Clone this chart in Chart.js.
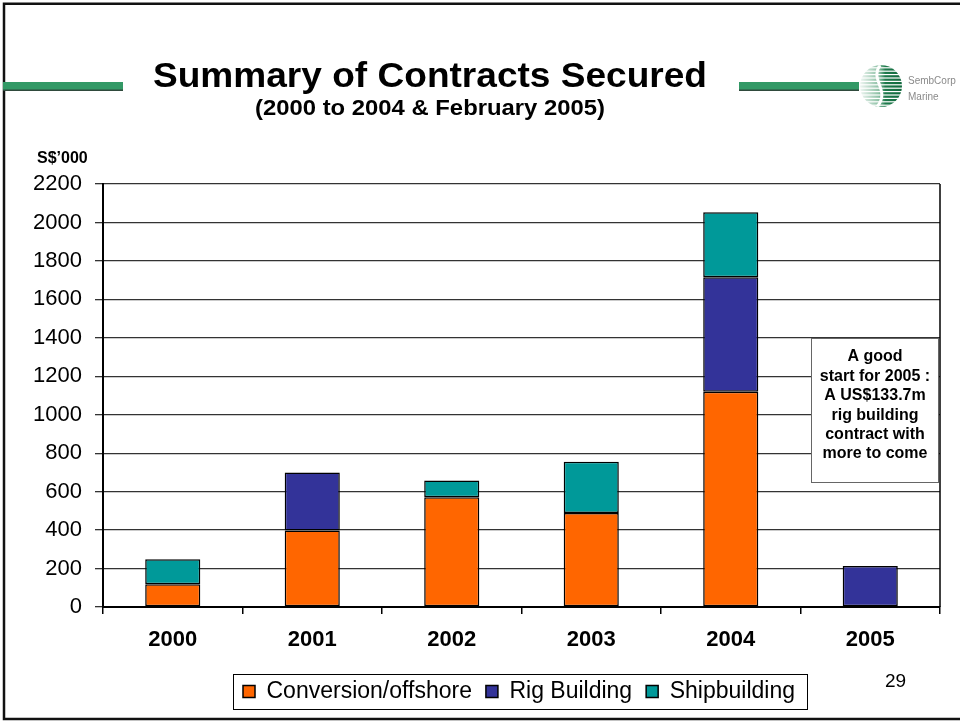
<!DOCTYPE html>
<html>
<head>
<meta charset="utf-8">
<script src="https://cdn.jsdelivr.net/npm/chart.js@4.4.1/dist/chart.umd.min.js"></script>
<style>
  html, body { margin: 0; padding: 0; background: #fff; }
  canvas { display: block; }
</style>
</head>
<body>
<canvas id="myChart" width="960" height="721"></canvas>
<script>
// contracts secured, S$'000, per year
const years = ['2000', '2001', '2002', '2003', '2004', '2005'];
const conversionOffshore = [118, 398, 571, 489, 1119, null];
const rigBuilding = [null, 302, null, null, 596, 213];
const shipbuilding = [130, null, 87, 266, 338, null];

const yMax = 2200;
const yStep = 200;

const noteLines = ['A good', 'start for 2005 :', 'A US$133.7m', 'rig building', 'contract with', 'more to come'];

const FONT = "'Liberation Sans', Arial, sans-serif";
const LEGEND_START = 243;

// draw text centred on cx and stretched to a given width
function fitText(ctx, text, cx, y, font, width) {
  ctx.save();
  ctx.font = font;
  const w = ctx.measureText(text).width;
  ctx.translate(cx, y);
  ctx.scale(width / w, 1);
  ctx.textAlign = 'center';
  ctx.textBaseline = 'alphabetic';
  ctx.fillText(text, 0, 0);
  ctx.restore();
}

function greenRule(ctx, x, y, w) {
  ctx.fillStyle = '#339966';
  ctx.fillRect(x, y, w, 8);
  ctx.fillStyle = '#2f4a3c';
  ctx.fillRect(x, y + 7.5, w, 1.5);
}

function drawLogo(ctx) {
  const cx = 881, cy = 86, r = 21;
  ctx.save();
  ctx.beginPath();
  ctx.ellipse(cx, cy, r, r, 0, 0, Math.PI * 2);
  ctx.clip();
  for (let y = cy - r; y < cy + r; y += 3.4) {
    const g = ctx.createLinearGradient(cx - r, 0, cx + r, 0);
    g.addColorStop(0, 'rgba(46,140,90,0.08)');
    g.addColorStop(0.45, 'rgba(46,140,90,0.55)');
    g.addColorStop(0.6, '#1f7a4c');
    g.addColorStop(1, '#11693d');
    ctx.fillStyle = g;
    ctx.fillRect(cx - r, y, 2 * r, 2.2);
  }
  ctx.strokeStyle = '#fff';
  ctx.lineWidth = 3;
  ctx.beginPath();
  ctx.moveTo(cx - 1, cy - r);
  ctx.bezierCurveTo(cx - 12, cy - 6, cx + 10, cy + 4, cx - 4, cy + r);
  ctx.stroke();
  ctx.restore();
  ctx.fillStyle = '#8a8a8a';
  ctx.font = '10px ' + FONT;
  ctx.textAlign = 'left';
  ctx.fillText('SembCorp', 908, 81);
  ctx.fillText('Marine', 908, 97);
}

const slideDecor = {
  id: 'slideDecor',
  afterLayout(chart) {
    // move the legend row so it starts under the 2000 bar
    const legend = chart.legend;
    const pad = legend.options.labels.padding;
    const lw = legend.lineWidths ? legend.lineWidths[0] : 0;
    const start = (legend.left + pad + legend.right - lw) / 2;
    const shift = LEGEND_START - start;
    legend.left += shift;
    legend.right += shift;
  },
  beforeDraw(chart) {
    const ctx = chart.ctx;
    ctx.save();
    ctx.fillStyle = '#fff';
    ctx.fillRect(0, 0, chart.width, chart.height);

    // slide frame (open on the right)
    ctx.strokeStyle = '#111';
    ctx.lineWidth = 2.5;
    ctx.beginPath();
    ctx.moveTo(chart.width + 5, 3.8);
    ctx.lineTo(4, 3.8);
    ctx.lineTo(4, 719);
    ctx.lineTo(chart.width + 5, 719);
    ctx.stroke();

    greenRule(ctx, 3, 82, 120);
    greenRule(ctx, 739, 82, 120);

    ctx.fillStyle = '#000';
    fitText(ctx, 'Summary of Contracts Secured', 430, 87, 'bold 35px ' + FONT, 554);
    fitText(ctx, '(2000 to 2004 & February 2005)', 430, 115, 'bold 22px ' + FONT, 350);

    ctx.textAlign = 'left';
    ctx.font = 'bold 16px ' + FONT;
    ctx.fillText('S$\u2019000', 37, 159);
    ctx.font = '19px ' + FONT;
    ctx.fillText('29', 885, 682);

    drawLogo(ctx);
    ctx.restore();
  },
  afterDraw(chart) {
    const ctx = chart.ctx;
    const area = chart.chartArea;
    ctx.save();

    // right edge of plot
    ctx.strokeStyle = '#000';
    ctx.lineWidth = 1.5;
    ctx.beginPath();
    ctx.moveTo(area.right, area.top);
    ctx.lineTo(area.right, area.bottom);
    ctx.stroke();

    // note box
    ctx.fillStyle = '#fff';
    ctx.fillRect(811, 338, 128, 144);
    ctx.strokeStyle = '#666';
    ctx.lineWidth = 1;
    ctx.strokeRect(811.5, 338.5, 127, 144);
    ctx.fillStyle = '#000';
    ctx.font = 'bold 16px ' + FONT;
    ctx.textAlign = 'center';
    noteLines.forEach((t, i) => ctx.fillText(t, 875, 357 + i * 19.4));

    // legend frame
    const hb = chart.legend.legendHitBoxes;
    if (hb && hb.length) {
      const first = hb[0], last = hb[hb.length - 1];
      const cy = first.top + first.height / 2;
      const x0 = first.left - 10;
      const x1 = last.left + last.width + 12;
      ctx.strokeStyle = '#000';
      ctx.lineWidth = 1;
      ctx.strokeRect(Math.round(x0) + 0.5, Math.round(cy - 17.5) + 0.5, Math.round(x1 - x0), 35);
    }
    ctx.restore();
  }
};

new Chart(document.getElementById('myChart'), {
  type: 'bar',
  data: {
    labels: years,
    datasets: [
      { label: 'Conversion/offshore', data: conversionOffshore, backgroundColor: '#FF6600' },
      { label: 'Rig Building', data: rigBuilding, backgroundColor: '#333399' },
      { label: 'Shipbuilding', data: shipbuilding, backgroundColor: '#009999' }
    ]
  },
  options: {
    responsive: false,
    animation: false,
    devicePixelRatio: 1,
    layout: { padding: { top: 184, left: 0, right: 20, bottom: 8 } },
    datasets: {
      bar: {
        borderColor: '#000',
        borderWidth: 1.5,
        borderSkipped: false,
        barPercentage: 0.395,
        categoryPercentage: 1
      }
    },
    plugins: {
      legend: {
        position: 'bottom',
        labels: {
          font: { family: FONT, size: 23 },
          color: '#000',
          boxWidth: 12,
          boxHeight: 12,
          padding: 14
        }
      },
      tooltip: { enabled: false }
    },
    scales: {
      x: {
        stacked: true,
        grid: { offset: true, drawOnChartArea: false, tickLength: 7, color: '#000', lineWidth: 1.5 },
        border: { color: '#000', width: 2 },
        ticks: { font: { family: FONT, size: 22, weight: 'bold' }, color: '#000', padding: 13 },
        afterFit(scale) { scale.height = 59; }
      },
      y: {
        stacked: true,
        min: 0,
        max: yMax,
        ticks: {
          stepSize: yStep,
          font: { family: FONT, size: 22 },
          color: '#000',
          padding: 13,
          callback: v => String(v)
        },
        grid: { color: '#333', lineWidth: 1.3, tickLength: 8 },
        border: { color: '#000', width: 2 },
        afterFit(scale) { scale.width = 103; }
      }
    }
  },
  plugins: [slideDecor]
});
</script>
</body>
</html>
